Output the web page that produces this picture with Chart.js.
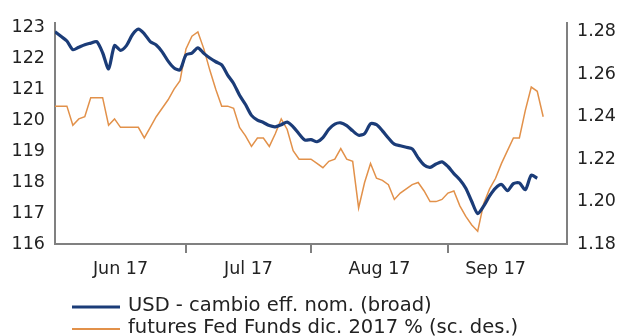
<!DOCTYPE html>
<html>
<head>
<meta charset="utf-8">
<script src="https://cdn.jsdelivr.net/npm/chart.js@4"></script>
<style>
  html, body { margin: 0; padding: 0; background: #fff; }
  #wrap { width: 620px; height: 336px; }
</style>
</head>
<body>
<div id="wrap"><canvas id="c" width="620" height="336"></canvas></div>
<script>
// Business-day index of the first trading day of each month
const monthLabels = ['Jun 17', 'Jul 17', 'Aug 17', 'Sep 17'];
const monthStarts = [0, 22, 43, 66];
const axisEnd = 86;

// USD nominal effective exchange rate (broad), daily
const usdBroad = [
  122.85, 122.70, 122.55, 122.27, 122.35, 122.43, 122.48, 122.53, 122.17, 121.65,
  122.40, 122.25, 122.40, 122.75, 122.93, 122.78, 122.53, 122.42, 122.20, 121.90,
  121.68, 121.62, 122.10, 122.16, 122.33, 122.15, 122.00, 121.88, 121.78, 121.45,
  121.18, 120.80, 120.50, 120.15, 120.00, 119.92, 119.82, 119.78, 119.85, 119.93,
  119.78, 119.55, 119.35, 119.37, 119.30, 119.43, 119.70, 119.87, 119.91, 119.82,
  119.65, 119.51, 119.56, 119.88, 119.85, 119.65, 119.42, 119.22, 119.17, 119.12,
  119.07, 118.78, 118.55, 118.47, 118.58, 118.65, 118.50, 118.27, 118.07, 117.80,
  117.37, 116.98, 117.22, 117.55, 117.80, 117.92, 117.72, 117.95, 117.97, 117.75,
  118.22, 118.12
];

// Fed Funds futures, December 2017 contract, implied rate %
const fedFundsDec17 = [
  1.245, 1.245, 1.245, 1.236, 1.239, 1.240, 1.249, 1.249, 1.249, 1.236,
  1.239, 1.235, 1.235, 1.235, 1.235, 1.230, 1.235, 1.240, 1.244, 1.248,
  1.253, 1.257, 1.272, 1.278, 1.280, 1.272, 1.262, 1.253, 1.245, 1.245,
  1.244, 1.235, 1.231, 1.226, 1.230, 1.230, 1.226, 1.232, 1.239, 1.234,
  1.224, 1.220, 1.220, 1.220, 1.218, 1.216, 1.219, 1.220, 1.225, 1.220,
  1.219, 1.197, 1.209, 1.218, 1.211, 1.210, 1.208, 1.201, 1.204, 1.206,
  1.208, 1.209, 1.205, 1.200, 1.200, 1.201, 1.204, 1.205, 1.198, 1.193,
  1.189, 1.186, 1.199, 1.206, 1.211, 1.218, 1.224, 1.230, 1.230, 1.243,
  1.254, 1.252, 1.240
];

const leftTicks = [116, 117, 118, 119, 120, 121, 122, 123];
const rightTicks = [1.18, 1.20, 1.22, 1.24, 1.26, 1.28];

const seriesNames = [
  'USD - cambio eff. nom. (broad)',
  'futures Fed Funds dic. 2017 % (sc. des.)'
];

const toPoints = arr => arr.map((v, i) => ({ x: i, y: v }));

// Month labels sit halfway through each month's span of data
const lastIndex = Math.max(usdBroad.length, fedFundsDec17.length) - 1;
const labelPos = monthStarts.map((s, i) =>
  (s + (i + 1 < monthStarts.length ? monthStarts[i + 1] : lastIndex)) / 2);

const AXIS = '#808080';
const TEXT = '#222';
const FONT = 'DejaVu Sans';

const stackedLegend = {
  id: 'stackedLegend',
  afterDraw(chart) {
    const ctx = chart.ctx;
    ctx.save();
    ctx.font = '19.5px "' + FONT + '"';
    ctx.textBaseline = 'middle';
    ctx.fillStyle = TEXT;
    chart.data.datasets.forEach((ds, i) => {
      const y = 306 + i * 22;
      ctx.strokeStyle = ds.borderColor;
      ctx.lineWidth = i === 0 ? 3 : 2;
      ctx.beginPath();
      ctx.moveTo(72, y + 1);
      ctx.lineTo(120, y + 1);
      ctx.stroke();
      ctx.fillText(ds.label, 128, y);
    });
    ctx.restore();
  }
};

new Chart(document.getElementById('c'), {
  type: 'line',
  data: {
    datasets: [
      {
        label: seriesNames[0],
        data: toPoints(usdBroad),
        yAxisID: 'y',
        borderColor: '#1b3c78',
        borderWidth: 3.2,
        pointRadius: 0,
        tension: 0.25,
        order: 0
      },
      {
        label: seriesNames[1],
        data: toPoints(fedFundsDec17),
        yAxisID: 'y1',
        borderColor: '#e2914a',
        borderWidth: 1.5,
        pointRadius: 0,
        tension: 0,
        order: 1
      }
    ]
  },
  options: {
    responsive: false,
    devicePixelRatio: 1,
    animation: false,
    layout: { padding: { top: 23, left: 0, right: 0, bottom: 0 } },
    plugins: { legend: { display: false }, tooltip: { enabled: false } },
    scales: {
      x: {
        type: 'linear',
        min: 0,
        max: axisEnd,
        afterBuildTicks: s => {
          s.ticks = monthStarts.slice(1).concat(labelPos)
            .sort((a, b) => a - b)
            .map(v => ({ value: v }));
        },
        afterFit: s => { s.height = 92; },
        grid: {
          drawOnChartArea: false,
          drawTicks: true,
          tickLength: 9,
          lineWidth: 2,
          tickColor: c => (c.tick && monthStarts.includes(c.tick.value)) ? AXIS : 'rgba(0,0,0,0)'
        },
        border: { display: true, color: AXIS, width: 2 },
        ticks: {
          autoSkip: false,
          maxRotation: 0,
          padding: 6,
          color: TEXT,
          font: { family: FONT, size: 17.5 },
          callback: v => {
            const k = labelPos.indexOf(v);
            return k >= 0 ? monthLabels[k] : '';
          }
        }
      },
      y: {
        position: 'left',
        min: 116,
        max: 123.13,
        afterBuildTicks: s => { s.ticks = leftTicks.map(v => ({ value: v })); },
        afterFit: s => { s.width = 55; },
        grid: { drawOnChartArea: false, drawTicks: false },
        border: { display: true, color: AXIS, width: 2 },
        ticks: {
          padding: 10,
          color: TEXT,
          font: { family: FONT, size: 17.5 },
          callback: v => String(v)
        }
      },
      y1: {
        position: 'right',
        min: 1.18,
        max: 1.2842,
        afterBuildTicks: s => { s.ticks = rightTicks.map(v => ({ value: v })); },
        afterFit: s => { s.width = 53; },
        grid: { drawOnChartArea: false, drawTicks: false },
        border: { display: true, color: AXIS, width: 2 },
        ticks: {
          padding: 10,
          color: TEXT,
          font: { family: FONT, size: 17.5 },
          callback: v => v.toFixed(2)
        }
      }
    }
  },
  plugins: [stackedLegend]
});
</script>
</body>
</html>
